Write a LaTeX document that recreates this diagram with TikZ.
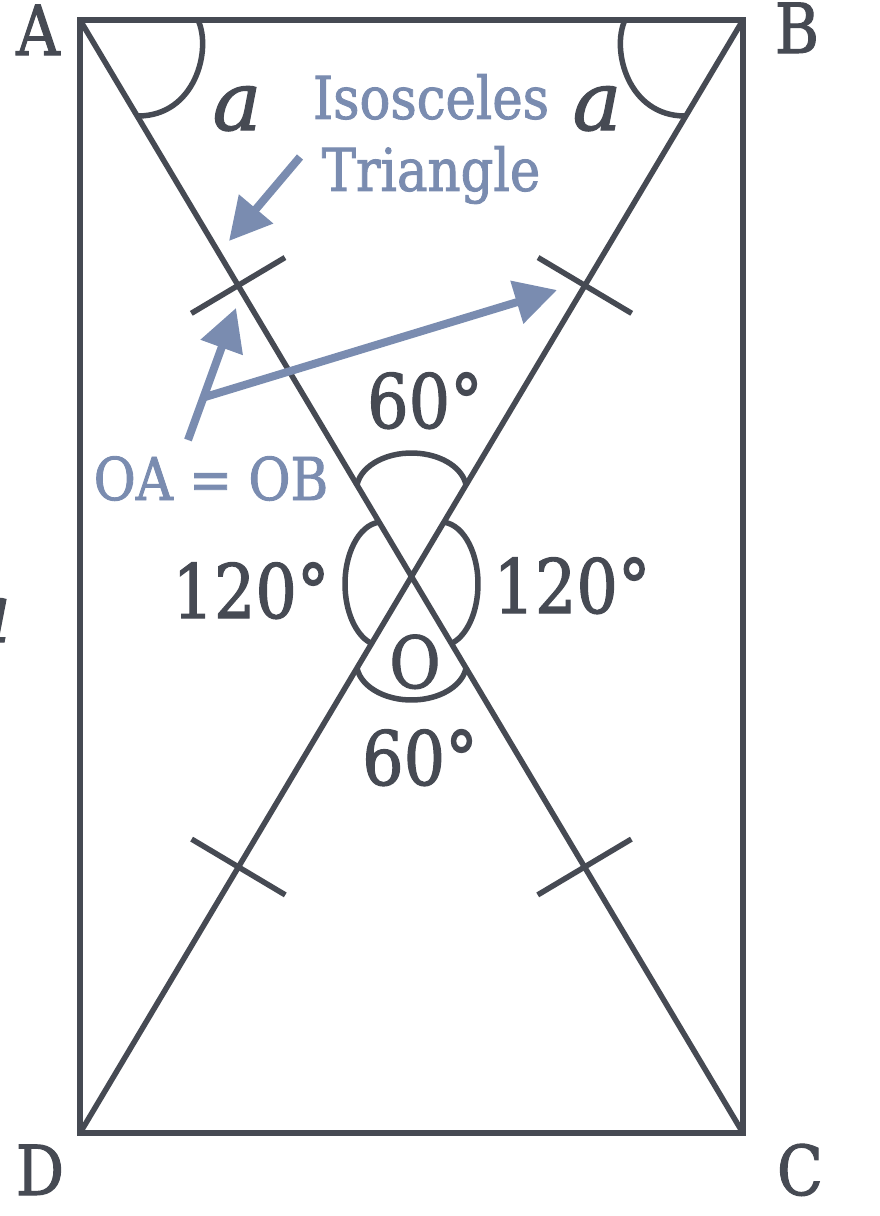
\documentclass[tikz,border=0pt]{standalone}
\usepackage{fontspec}
\setmainfont[FakeStretch=0.87,FakeBold=1.5]{DejaVu Serif}
\newfontfamily\sidefont[FakeBold=1.5]{DejaVu Serif}
\usetikzlibrary{arrows.meta,calc}
\definecolor{ink}{HTML}{464A53}
\definecolor{hint}{HTML}{7A8CB0}

\begin{document}
\begin{tikzpicture}[x=1pt,y=-1pt,ink,line width=5.5pt,
    vertex/.style={text=ink,font=\fontsize{69}{69}\selectfont,anchor=base},
    ang/.style={text=ink,font=\fontsize{75}{75}\selectfont,anchor=base},
    side/.style={text=ink,font=\fontsize{82}{82}\sidefont\itshape,anchor=base},
    note/.style={text=hint,font=\fontsize{59}{72}\selectfont,align=center},
    pointer/.style={draw=hint,line width=8pt,-{Triangle[length=42pt,width=43pt]}}]
    \useasboundingbox (0,0) rectangle (879,1216);

    \coordinate (A) at (80,20);
    \coordinate (B) at (743,20);
    \coordinate (C) at (743,1133);
    \coordinate (D) at (80,1133);
    \coordinate (O) at (411.5,576.5);

    \draw[line width=6pt] (A) -- (B) -- (C) -- (D) -- cycle;
    \draw (A) -- (C) (B) -- (D);

    % angle marks
    \draw (198,20) .. controls (212,50) and (195,116) .. (138,116);
    \draw (625,20) .. controls (611,50) and (628,116) .. (685,116);
    \draw (357.04,484.85) arc[start angle=188,end angle=352,x radius=55,y radius=37];
    \draw (357.04,668.15) arc[start angle=172,end angle=8,x radius=55,y radius=37];
    \draw (378.78,522.24) arc[start angle=265,end angle=105,x radius=37,y radius=62];
    \draw (444.22,522.24) arc[start angle=275,end angle=435,x radius=37,y radius=62];

    % equal marks
    \coordinate (t1) at ($(A)!0.477!(O)$);
    \coordinate (t2) at ($(B)!0.477!(O)$);
    \coordinate (t3) at ($(D)!0.478!(O)$);
    \coordinate (t4) at ($(C)!0.478!(O)$);
    \foreach \t/\e in {t1/A,t2/B,t3/D,t4/C}
      \draw ($(\t)!54.5pt!90:(\e)$) -- ($(\t)!54.5pt!-90:(\e)$);

    \node[vertex] (lA) at (38,55) {A};
    \node[vertex] (lB) at (797,53) {B};
    \node[vertex] (lD) at (40,1195) {D};
    \node[vertex] (lC) at (800,1195) {C};

    \node[side] (aA) at (237,130) {a};
    \node[side] (aB) at (597,130) {a};
    \node[side] (aD) at (-13,642) {a};

    \node[ang] (top) at (425,428) {60°};
    \node[ang] (bot) at (420,785) {60°};
    \node[ang] (lft) at (251,618) {120°};
    \node[ang] (rgt) at (572,613) {120°};
    \node[text=ink,font=\fontsize{72}{72}\selectfont,anchor=base] (lO) at (415,688) {O};

    \node[note] (iso) at (431,139) {Isosceles\\Triangle};
    \node[note,anchor=base] (oaob) at (211,500) {OA = OB};

    \coordinate (p0) at (300,157);
    \coordinate (h0) at (229,241);
    \coordinate (p1) at (188,440);
    \coordinate (h1) at (236,308);
    \coordinate (j) at (205,397);
    \coordinate (h2) at (557,290);
    \draw[pointer] (p0) -- (h0);
    \draw[pointer] (p1) -- (h1);
    \draw[pointer] (j) -- (h2);
  \end{tikzpicture}
\end{document}
